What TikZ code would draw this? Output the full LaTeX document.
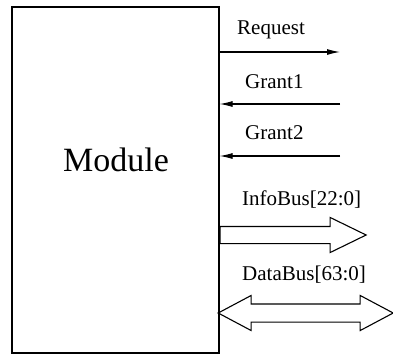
\documentclass[tikz,border=0pt]{standalone}
\usepackage{fontspec}
\setmainfont{Liberation Serif}
\usetikzlibrary{arrows.meta,shapes.arrows,positioning}

\begin{document}
\begin{tikzpicture}[x=1pt,y=-1pt,
  sig/.style={line width=1.1pt},
  sigtip/.style={-{Latex[length=13pt,width=6pt]}},
  lbl/.style={anchor=base west,inner sep=0pt,font=\fontsize{21}{24}\selectfont},
  bus/.style={draw,line width=1.1pt,inner xsep=0pt,inner ysep=8pt}]
\useasboundingbox (0,0) rectangle (393,356);
\node[draw,line width=1.1pt,minimum width=207pt,minimum height=346pt,inner sep=0pt] (module) at (115.5,180) {};
\node[anchor=base west,inner sep=0pt,font=\fontsize{34}{38}\selectfont] (modname) at (63,171) {Module};
% single signals
\coordinate (req) at (340,52);
\coordinate (gnt1) at (340,104);
\coordinate (gnt2) at (340,156);
\draw[sig,sigtip] (module.east |- req) -- (req);
\draw[sig,sigtip] (gnt1) -- (module.east |- gnt1);
\draw[sig,sigtip] (gnt2) -- (module.east |- gnt2);
\node[lbl] (reqname) at (237,34) {Request};
\node[lbl] (gnt1name) at (245,88) {Grant1};
\node[lbl] (gnt2name) at (245,139) {Grant2};
% buses
\node[bus,single arrow,single arrow head extend=9pt,single arrow tip angle=52,
  minimum height=146pt,anchor=west] (info) at (module.east |- 0,235) {};
\node[bus,double arrow,inner ysep=8.5pt,double arrow head extend=8.5pt,double arrow tip angle=56,
  minimum height=175pt,anchor=west] (data) at (217,313) {};
\node[lbl] (infoname) at (242,205) {InfoBus[22:0]};
\node[lbl] (dataname) at (242,280) {DataBus[63:0]};
\end{tikzpicture}
\end{document}
